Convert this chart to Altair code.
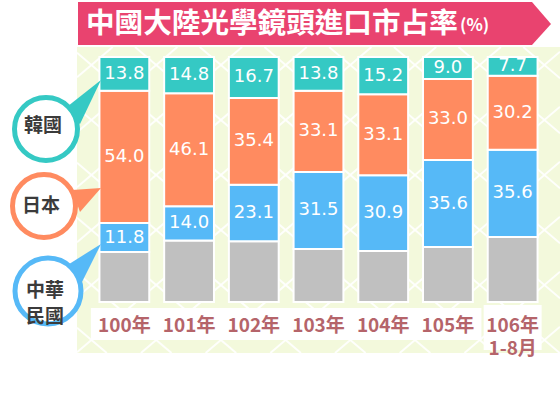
import altair as alt
import pandas as pd

# ---- data ----
years = ["100年", "101年", "102年", "103年", "104年", "105年", "106年\n1-8月"]
korea = [13.8, 14.8, 16.7, 13.8, 15.2, 9.0, 7.7]
japan = [54.0, 46.1, 35.4, 33.1, 33.1, 33.0, 30.2]
taiwan = [11.8, 14.0, 23.1, 31.5, 30.9, 35.6, 35.6]
other = [20.4, 25.1, 24.8, 21.6, 20.8, 22.4, 26.5]
series = ["其他", "中華民國", "日本", "韓國"]
colors = ["#c0c0c0", "#56b9f7", "#ff8b60", "#35c9c4"]
title_main = "中國大陸光學鏡頭進口市占率"
title_unit = "(%)"

rows = []
for i, y in enumerate(years):
    for k, (name, vals) in enumerate(zip(series, [other, taiwan, japan, korea])):
        rows.append({"year": y, "series": name, "value": vals[i], "ord": k,
                     "label": "" if name == "其他" else f"{vals[i]:.1f}"})
df = pd.DataFrame(rows)
one = pd.DataFrame({"a": [0]})

PL, PT = 92, 57          # plot origin in the canvas
W, H = 453, 245

def cx(v):
    return alt.value(v - PL)

def cy(v):
    return alt.value(v - PT)

xenc = alt.X("year:N", sort=years, axis=None,
             scale=alt.Scale(paddingInner=0.23, paddingOuter=0.115))
yscale = alt.Scale(domain=[0, 100])

# background
BX0, BX1, BY0, BY1 = 77, 560, 47, 353
bg = alt.Chart(one).mark_rect(color="#f3f9dc").encode(
    x=cx(BX0), x2=cx(BX1), y=cy(BY0), y2=cy(BY1))

# decorative white lattice (background texture)
segs = []
slope = 0.85
for sgn in (1, -1):
    for m in range(-20, 21):
        a = 65 + 55 * m
        xs = []
        for yy in (BY0, BY1):
            xs.append(91.5 + (yy - a) / (sgn * slope))
        lo, hi = max(BX0, min(xs)), min(BX1, max(xs))
        if hi > lo:
            segs.append({"x": lo - PL, "y": a + sgn * slope * (lo - 91.5) - PT,
                         "x2": hi - PL, "y2": a + sgn * slope * (hi - 91.5) - PT})
lat = alt.Chart(pd.DataFrame(segs)).mark_rule(color="white", strokeWidth=2, opacity=0.9).encode(
    x=alt.X("x:Q", scale=None, axis=None), y=alt.Y("y:Q", scale=None, axis=None),
    x2="x2:Q", y2="y2:Q")

# title banner
banner = alt.Chart(one).mark_point(
    shape="M78,2L532,2L551,24L532,45L78,45Z", size=4, filled=True,
    fill="#e9436f", opacity=1, strokeWidth=0).encode(x=cx(0), y=cy(0))
t_main = alt.Chart(one).mark_text(
    text=title_main, font="Noto Sans CJK TC", fontWeight="bold", fontSize=28.6,
    color="white", align="left", baseline="middle").encode(x=cx(86), y=cy(24))
t_unit = alt.Chart(one).mark_text(
    text=title_unit, font="Noto Sans CJK TC", fontWeight="bold", fontSize=17,
    color="white", align="left", baseline="middle").encode(x=cx(460), y=cy(26))

# label boxes
boxes = alt.Chart(df[df["series"] == "其他"]).transform_filter(
    alt.datum.year != years[-1]).mark_bar(width=67, color="white").encode(
    x=xenc, y=cy(308), y2=cy(340))
box_last = alt.Chart(df[df["series"] == "其他"]).transform_filter(
    alt.datum.year == years[-1]).mark_bar(width=58, color="white").encode(
    x=xenc, y=cy(305), y2=cy(350))

bars = alt.Chart(df).mark_bar(stroke="white", strokeWidth=2).encode(
    x=xenc,
    y=alt.Y("value:Q", stack="zero", scale=yscale, axis=None),
    color=alt.Color("series:N", scale=alt.Scale(domain=series, range=colors), legend=None),
    order=alt.Order("ord:Q"),
)

seg_text = alt.Chart(df).transform_stack(
    stack="value", groupby=["year"], sort=[alt.SortField("ord")], as_=["y0", "y1"]
).transform_calculate(mid="(datum.y0 + datum.y1) / 2").transform_filter(
    alt.datum.label != ""
).mark_text(font="DejaVu Sans", fontSize=18, color="white", baseline="middle").encode(
    x=xenc, y=alt.Y("mid:Q", scale=yscale, axis=None), text="label:N")

xlab = alt.Chart(df[df["series"] == "其他"]).mark_text(
    font="Noto Sans CJK TC", fontWeight="bold", fontSize=19, color="#b5646a",
    baseline="middle", lineBreak="\n", lineHeight=23).encode(
    x=xenc, y=cy(326), text="year:N")

# call-out bubbles
def bubble(tail, cxp, cyp, r, col, text, ty):
    t = alt.Chart(one).mark_point(shape=tail, size=4, filled=True, fill=col,
                                  opacity=1, strokeWidth=0).encode(x=cx(0), y=cy(0))
    c = alt.Chart(one).mark_point(shape="circle", size=(2 * r) ** 2, filled=False,
                                  fill="white", fillOpacity=1, stroke=col,
                                  strokeWidth=5, opacity=1).encode(x=cx(cxp), y=cy(cyp))
    tx = alt.Chart(one).mark_text(text=text, font="Noto Sans CJK TC", fontWeight="bold",
                                  fontSize=19, color="#3b3b3b", baseline="middle",
                                  lineBreak="\n", lineHeight=26).encode(x=cx(cxp - 3), y=cy(ty))
    return [t, c, tx]

callouts = (bubble("M63,110L80,124L101,80Z", 46, 129, 31.5, "#35c9c4", "韓國", 126)
            + bubble("M72,190L80,212L101,188Z", 44, 206, 31.5, "#ff8b60", "日本", 206)
            + bubble("M66,266L82,282L101,244Z", 48, 291, 33, "#56b9f7", "中華\n民國", 291))

chart = alt.layer(bg, lat, banner, t_main, t_unit, boxes, box_last, bars, seg_text, xlab,
                  *callouts).properties(
    width=W, height=H,
    autosize=alt.AutoSizeParams(type="none"),
    padding={"left": PL, "top": PT, "right": 560 - PL - W, "bottom": 393 - PT - H},
    background="white",
).configure_view(stroke=None)

chart.save("out.html", embed_options={"renderer": "svg", "actions": False})
